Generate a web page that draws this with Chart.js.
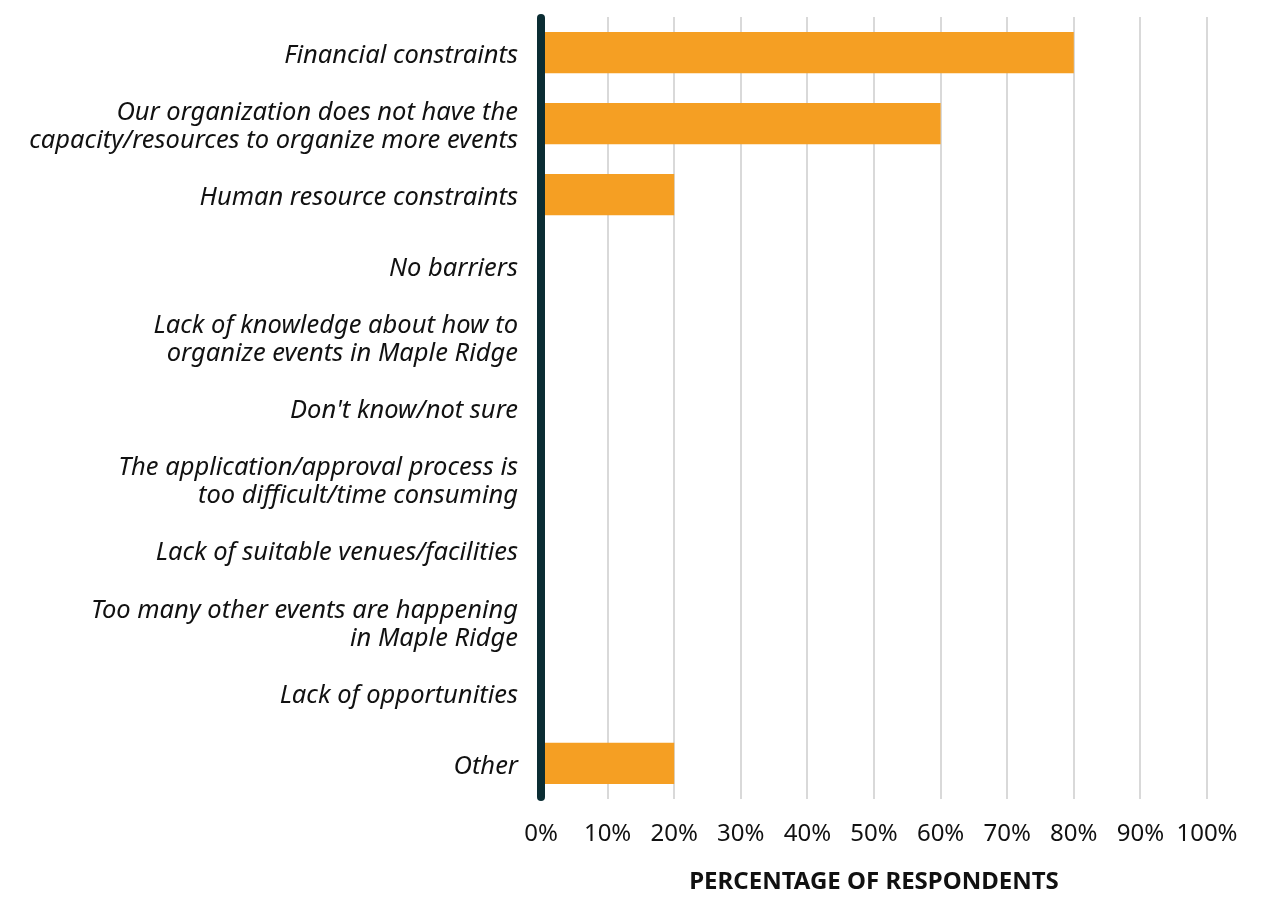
<!DOCTYPE html>
<html>
<head>
<meta charset="utf-8">
<script src="https://cdn.jsdelivr.net/npm/chart.js@4/dist/chart.umd.min.js"></script>
<style>
  html, body { margin: 0; padding: 0; background: #fff; }
  #wrap { width: 1276px; height: 897px; }
</style>
</head>
<body>
<div id="wrap"><canvas id="barrierChart" width="1276" height="897"></canvas></div>
<script>
// Barriers to organizing more events
const barriers = [
    'Financial constraints',
    ['Our organization does not have the', 'capacity/resources to organize more events'],
    'Human resource constraints',
    'No barriers',
    ['Lack of knowledge about how to', 'organize events in Maple Ridge'],
    "Don't know/not sure",
    ['The application/approval process is', 'too difficult/time consuming'],
    'Lack of suitable venues/facilities',
    ['Too many other events are happening', 'in Maple Ridge'],
    'Lack of opportunities',
    'Other'
];
const shares = [80, 60, 20, 0, 0, 0, 0, 0, 0, 0, 20];
const tickSteps = [0, 10, 20, 30, 40, 50, 60, 70, 80, 90, 100];

const labelFont = '"Noto Sans"';

// thick dark line at 0%, with rounded ends
const zeroLine = {
    id: 'zeroLine',
    afterDatasetsDraw(chart) {
        const { ctx, chartArea, scales } = chart;
        const x = scales.x.getPixelForValue(0);
        ctx.save();
        ctx.strokeStyle = '#0b2d33';
        ctx.lineWidth = 8;
        ctx.lineCap = 'round';
        ctx.beginPath();
        ctx.moveTo(x, chartArea.top + 1);
        ctx.lineTo(x, chartArea.bottom - 2);
        ctx.stroke();
        ctx.restore();
    }
};

new Chart(document.getElementById('barrierChart').getContext('2d'), {
    type: 'bar',
    data: {
        labels: barriers,
        datasets: [{
            data: shares,
            backgroundColor: '#f59f23',
            borderWidth: 0,
            barPercentage: 0.58,
            categoryPercentage: 1
        }]
    },
    options: {
        indexAxis: 'y',
        responsive: false,
        animation: false,
        layout: { padding: { top: 17, right: 69, left: 0, bottom: 0 } },
        plugins: { legend: { display: false }, tooltip: { enabled: false } },
        scales: {
            x: {
                min: 0,
                max: 100,
                afterBuildTicks: scale => { scale.ticks = tickSteps.map(v => ({ value: v })); },
                afterFit: scale => { scale.height = 98; },
                grid: {
                    color: '#d9d9d9',
                    lineWidth: 2,
                    drawTicks: false
                },
                border: { display: false },
                ticks: {
                    padding: 21,
                    maxRotation: 0,
                    minRotation: 0,
                    autoSkip: false,
                    color: '#111',
                    font: { family: labelFont, size: 24 },
                    callback: v => v + '%'
                },
                title: {
                    display: true,
                    text: 'PERCENTAGE OF RESPONDENTS',
                    color: '#111',
                    font: { family: labelFont, size: 24, weight: 'bold' },
                    padding: { top: 0, bottom: 0 }
                }
            },
            y: {
                afterFit: scale => {
                    scale.width = 541;
                    scale.paddingTop = 0;
                    scale.paddingBottom = 0;
                },
                grid: { display: false, drawTicks: false },
                border: { display: false },
                ticks: {
                    padding: 23,
                    labelOffset: 3,
                    color: '#111',
                    font: { family: labelFont, size: 25.5, style: 'italic', lineHeight: 1.1 }
                }
            }
        }
    },
    plugins: [zeroLine]
});
</script>
</body>
</html>
